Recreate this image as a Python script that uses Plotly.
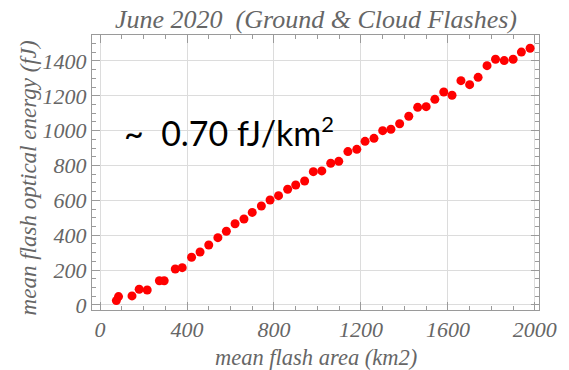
import plotly.graph_objects as go

mean_flash_area = [75, 85, 147, 180, 217, 273, 295, 346, 378, 421, 460, 500, 542, 581, 621, 662, 700,
                   742, 782, 821, 863, 900, 941, 981, 1020, 1061, 1098, 1140, 1181, 1219, 1260, 1300,
                   1338, 1378, 1420, 1461, 1500, 1540, 1581, 1619, 1660, 1700, 1739, 1780, 1819, 1859,
                   1900, 1938, 1978]
mean_flash_energy = [25, 48, 52, 90, 86, 139, 139, 206, 214, 274, 304, 344, 386, 423, 466, 493, 531,
                     568, 602, 627, 664, 688, 711, 765, 769, 813, 824, 880, 893, 939, 956, 1000,
                     1008, 1040, 1083, 1134, 1138, 1180, 1222, 1203, 1287, 1264, 1306, 1373, 1410, 1402,
                     1410, 1451, 1473]
x_ticks = [0, 400, 800, 1200, 1600, 2000]
y_ticks = [0, 200, 400, 600, 800, 1000, 1200, 1400]

title_text = "<i>June 2020  (Ground &amp; Cloud Flashes)</i>"
x_title = "<i>mean flash area (km2)</i>"
y_title = "<i>mean flash optical energy (fJ)</i>"
slope_text = "~  0.70 fJ/km<sup><span style='font-size:22px'>2</span></sup>"

serif = "Liberation Serif, Times New Roman, serif"
gray = "#666666"

fig = go.Figure()
fig.add_trace(go.Scatter(
    x=mean_flash_area, y=mean_flash_energy, mode="markers",
    marker=dict(color="#ff0000", size=9, line=dict(width=0)),
    showlegend=False,
))

axis_common = dict(
    showline=True, linecolor="#9a9a9a", linewidth=1, mirror="ticks",
    ticks="inside", ticklen=8, tickcolor="#9a9a9a", tickwidth=1,
    showgrid=True, gridcolor="#dcdcdc", gridwidth=1,
    zeroline=False,
    tickfont=dict(family=serif, size=22, color=gray),
)

fig.update_xaxes(range=[-37, 2019], tickvals=x_ticks,
                 ticktext=[f"<i>{v}</i>" for v in x_ticks],
                 minor=dict(ticks="inside", ticklen=4, dtick=100, tickcolor="#9a9a9a", showgrid=False),
                 **axis_common)
fig.update_yaxes(range=[-29, 1549], tickvals=y_ticks,
                 ticktext=[f"<i>{v}</i>" for v in y_ticks],
                 minor=dict(ticks="inside", ticklen=4, dtick=50, tickcolor="#9a9a9a", showgrid=False),
                 **axis_common)

fig.update_layout(
    width=569, height=370,
    margin=dict(l=92, r=20, t=35, b=60),
    plot_bgcolor="white", paper_bgcolor="white",
    annotations=[
        dict(text=title_text, xref="paper", yref="paper", x=(321 - 92) / 457, y=1 + (35 - 19) / 275,
             showarrow=False, xanchor="center", yanchor="middle",
             font=dict(family=serif, size=26, color=gray)),
        dict(text=x_title, xref="paper", yref="paper", x=(321 - 92) / 457, y=-(357 - 310) / 275,
             showarrow=False, xanchor="center", yanchor="middle",
             font=dict(family=serif, size=22.5, color=gray)),
        dict(text=y_title, xref="paper", yref="paper", x=-(92 - 27) / 457, y=(310 - 178) / 275,
             showarrow=False, xanchor="center", yanchor="middle", textangle=-90,
             font=dict(family=serif, size=23, color=gray)),
        dict(text=slope_text, xref="paper", yref="paper", x=(123 - 92) / 457, y=(310 - 131) / 275,
             showarrow=False, xanchor="left", yanchor="middle",
             font=dict(family="Lato", size=34, color="black")),
    ],
)

fig.write_html("out.html")
